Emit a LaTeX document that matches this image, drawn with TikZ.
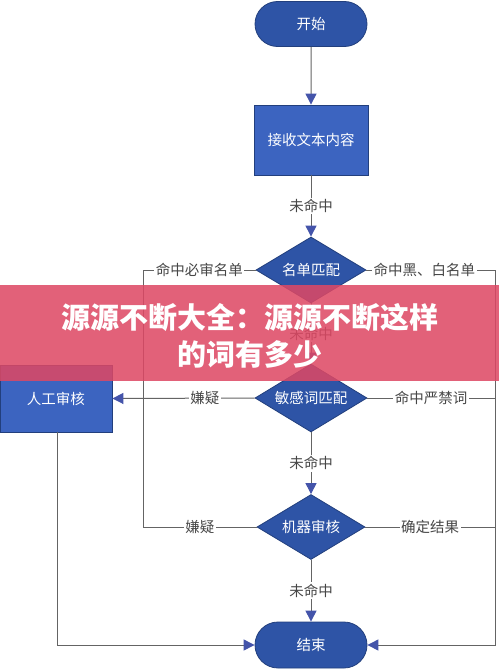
\documentclass[tikz,border=0pt]{standalone}
\usepackage{fontspec}
\setmainfont{Noto Sans CJK SC}
\usetikzlibrary{shapes.geometric,shapes.misc,arrows.meta}
\definecolor{boxblue}{RGB}{60,100,192}
\definecolor{darkblue}{RGB}{46,84,166}
\definecolor{edgecol}{RGB}{100,100,100}
\definecolor{tipcol}{RGB}{68,84,170}
\definecolor{lblcol}{RGB}{70,70,70}
\definecolor{bannercol}{RGB}{222,72,100}
\begin{document}
\begin{tikzpicture}[x=1pt,y=-1pt,
  txt/.style={text=white,font=\fontsize{14.5}{17}\selectfont},
  term/.style={txt,rounded rectangle,draw=darkblue!75!black,fill=darkblue,line width=0.8pt,minimum width=112pt,minimum height=45pt,inner sep=0pt},
  proc/.style={txt,rectangle,draw=darkblue!75!black,fill=boxblue,line width=0.8pt,minimum width=114pt,minimum height=70pt,inner sep=0pt},
  decis/.style={txt,diamond,aspect=1.7,draw=darkblue!75!black,fill=darkblue,line width=0.8pt,minimum width=110pt,minimum height=66pt,inner sep=0pt},
  conn/.style={draw=edgecol,line width=1pt},
  arr/.style={conn,-{Triangle[length=11pt,width=11pt,color=tipcol]}},
  lab/.style={fill=white,text=lblcol,inner sep=1.5pt,font=\fontsize{14.5}{17}\selectfont}
]
\useasboundingbox (0,0) rectangle (499,669);
\fill[white] (0,0) rectangle (499,669);
% nodes
\node[term] (start) at (311,24) {开始};
\node[proc] (recv) at (311,140) {接收文本内容};
\node[decis] (m1) at (311,270) {名单匹配};
\node[decis,minimum width=112pt,minimum height=68pt] (m2) at (311,398) {敏感词匹配};
\node[decis,minimum width=108pt,minimum height=65pt] (m3) at (311,527) {机器审核};
\node[term,minimum height=46pt] (end) at (311,645) {结束};
\node[proc,minimum width=112pt,minimum height=67pt] (manual) at (56,398.5) {人工审核};
% corner coordinates
\coordinate (L1) at (143,270);
\coordinate (L3) at (143,527);
\coordinate (R1) at (495,270);
\coordinate (R2) at (495,398);
\coordinate (R3) at (495,527);
\coordinate (R4) at (495,645);
\coordinate (B) at (57,645);
% connectors
\draw[arr] (start) -- (recv);
\draw[arr] (recv) -- node[lab]{未命中} (m1);
\draw[arr] (m1) -- node[lab]{未命中} (m2);
\draw[arr] (m2) -- node[lab]{未命中} (m3);
\draw[arr] (m3) -- node[lab]{未命中} (end);
\draw[conn] (m1.west) -- node[lab]{命中必审名单} (L1) -- (L3) -- (m3.west);
\path (m3.west) -- node[lab]{嫌疑} (L3);
\draw[arr] (m2.west) -- node[lab,pos=0.35]{嫌疑} (manual.east);
\draw[conn] (m1.east) -- node[lab,pos=0.45]{命中黑、白名单} (R1);
\draw[conn] (m2.east) -- node[lab]{命中严禁词} (R2);
\draw[conn] (m3.east) -- node[lab]{确定结果} (R3);
\draw[arr] (R1) -- (R4) -- (end.east);
\draw[arr] (manual.south -| B) -- (B) -- (end.west);
% overlay banner
\fill[bannercol,opacity=0.86] (0,285) rectangle (499,381);
\node[text=white,font=\bfseries\fontsize{29}{37}\selectfont,align=center] (banner) at (250,336) {源源不断大全：源源不断这样\\的词有多少};
\end{tikzpicture}
\end{document}
